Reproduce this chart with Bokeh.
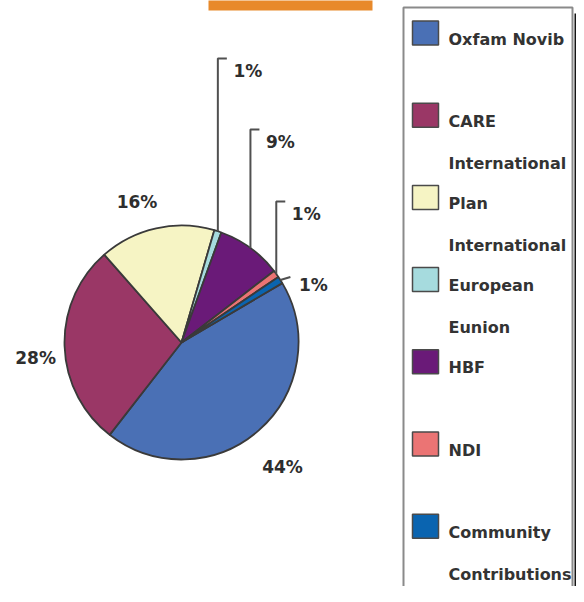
import numpy as np
from bokeh.plotting import figure
from bokeh.models import Range1d
from bokeh.core.properties import value
from bokeh.embed import file_html
from bokeh.resources import INLINE

# ---------------- data ----------------
categories = ["Oxfam Novib", "CARE International", "Plan International",
              "European Eunion", "HBF", "NDI", "Community Contributions"]
legend_lines = [["Oxfam Novib"], ["CARE", "International"], ["Plan", "International"],
                ["European", "Eunion"], ["HBF"], ["NDI"], ["Community", "Contributions"]]
shares = [44, 28, 16, 1, 9, 1, 1]
pct_labels = ["44%", "28%", "16%", "1%", "9%", "1%", "1%"]
colors = ["#4A70B5", "#9A3766", "#F6F4C4", "#A6DBDE", "#6A1A78", "#EB7474", "#0A64B0"]

# ---------------- layout ----------------
W, H = 576, 586
def X(rx): return rx
def Y(ry): return H - ry

FONT = value("DejaVu Sans")
p = figure(width=W, height=H, x_range=Range1d(0, W), y_range=Range1d(0, H),
           x_axis_type=None, y_axis_type=None, toolbar_location=None,
           output_backend="svg", min_border=0)
p.grid.visible = False
p.outline_line_color = None
p.background_fill_color = "white"
p.border_fill_color = "white"

# orange bar at top
p.quad(left=X(208), right=X(372), top=H + 2, bottom=Y(10),
       fill_color="#E8892A", line_color=None)

# ---------------- pie ----------------
cx, cy, R = X(181), Y(342), 117
start = 30.5
sh = np.array(shares, dtype=float)
cum = np.concatenate([[0], np.cumsum(sh)[:-1]])
ends = start - cum / sh.sum() * 360.0
starts = ends - sh / sh.sum() * 360.0
mids = np.radians((starts + ends) / 2.0)

p.wedge(x=cx, y=cy, radius=R, start_angle=np.radians(starts), end_angle=np.radians(ends),
        fill_color=colors, line_color="#3a3a3a", line_width=1.8)

lab_kw = dict(text_font=FONT, text_font_style="bold", text_font_size="17px",
              text_color="#2e2e2e", text_baseline="middle")

# big slice labels outside the pie
label_nudge = [(2, -3), (4, -2), (-12, 3)]
for i in range(3):
    lx = cx + 150 * np.cos(mids[i]) + label_nudge[i][0]
    ly = cy + 150 * np.sin(mids[i]) - 9 + label_nudge[i][1]
    p.text(x=[lx], y=[ly], text=[pct_labels[i]], text_align="center", **lab_kw)

# leader lines for small slices
leader_tops = {3: 58, 4: 129, 5: 201}
for i, top in leader_tops.items():
    ex = cx + R * np.cos(mids[i])
    ey = cy + R * np.sin(mids[i])
    ty = Y(top)
    p.line(x=[ex, ex, ex + 9], y=[ey, ty, ty], line_color="#505050", line_width=2)
    p.text(x=[ex + 30], y=[ty - 12], text=[pct_labels[i]], text_align="center", **lab_kw)

# community contributions short leader
ex = cx + R * np.cos(mids[6])
ey = cy + R * np.sin(mids[6])
p.line(x=[ex, ex + 10], y=[ey, ey + 3], line_color="#505050", line_width=2)
p.text(x=[ex + 33], y=[ey - 5], text=[pct_labels[6]], text_align="center", **lab_kw)

# ---------------- legend ----------------
p.quad(left=X(574), right=X(580), top=Y(13), bottom=-20,
       fill_color="#151515", line_color=None)
p.quad(left=X(403), right=X(572), top=Y(7), bottom=-20,
       fill_color="white", line_color="#8a8a8a", line_width=2)

for i, lines in enumerate(legend_lines):
    sy = 32.5 + 82.2 * i
    p.rect(x=[X(425)], y=[Y(sy)], width=26, height=24,
           fill_color=colors[i], line_color="#4a4a4a", line_width=1.5)
    for j, t in enumerate(lines):
        ty = sy + 6 + 42 * j
        p.text(x=[X(448)], y=[Y(ty)], text=[t], text_align="left",
               text_font=FONT, text_font_style="bold", text_font_size="16px",
               text_color="#333333", text_baseline="middle")

open("out.html", "w").write(file_html(p, INLINE))
